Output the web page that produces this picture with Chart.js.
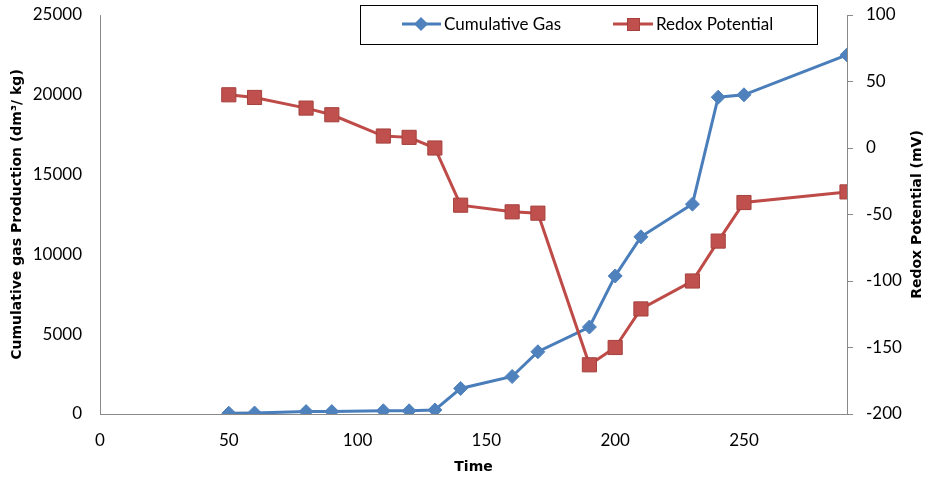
<!DOCTYPE html>
<html>
<head>
<meta charset="utf-8">
<script src="https://cdn.jsdelivr.net/npm/chart.js@4"></script>
<style>
  html, body { margin: 0; padding: 0; background: #fff; }
  #wrap { width: 928px; height: 479px; position: relative; }
</style>
</head>
<body>
<div id="wrap"><canvas id="redox-chart" width="928" height="479"></canvas></div>
<script>
// time (x) values shared by both series
const time = [50, 60, 80, 90, 110, 120, 130, 140, 160, 170, 190, 200, 210, 230, 240, 250, 290];
const cumulativeGas = [50, 60, 150, 150, 200, 200, 250, 1600, 2350, 3900, 5450, 8650, 11100, 13150, 19850, 20000, 22500];
const redoxPotential = [40, 38, 30, 25, 9, 8, 0, -43, -48, -49, -163, -150, -121, -100, -70, -41, -33];

const timeTicks = [0, 50, 100, 150, 200, 250];
const gasTicks = [0, 5000, 10000, 15000, 20000, 25000];
const redoxTicks = [-200, -150, -100, -50, 0, 50, 100];

const blue = '#4A7EBB';
const blueFill = '#4F81BD';
const red = '#BE4B48';
const redFill = '#C0504D';
const redEdge = '#A5403D';
const axisGrey = '#898989';
const tickFont = { family: 'Lato', size: 17 };
const titleFont = { family: 'DejaVu Sans', size: 14, weight: 'bold' };

const toPoints = (ys) => time.map((t, i) => ({ x: t, y: ys[i] }));
const fixTicks = (list) => (scale) => { scale.ticks = list.map(v => ({ value: v })); };
const plain = (v) => String(v);
// fixed box size; drop the label overhang chart.js adds above/below
const fitSide = (w) => (s) => { s.width = w; s.paddingTop = 0; s.paddingBottom = 0; };

// legend box drawn over the top of the plot, plus the right-hand axis title
const overlay = {
    id: 'overlay',
    afterDraw(chart) {
        const c = chart.ctx;
        c.save();
        c.strokeStyle = '#000';
        c.lineWidth = 1;
        c.strokeRect(360.5, 5.5, 457, 39);

        c.font = '17px Lato';
        c.textBaseline = 'middle';
        c.fillStyle = '#000';

        // Cumulative Gas
        c.strokeStyle = blue;
        c.lineWidth = 3;
        c.beginPath(); c.moveTo(402, 24); c.lineTo(441, 24); c.stroke();
        c.fillStyle = blueFill;
        c.beginPath(); c.moveTo(421, 17); c.lineTo(428, 24); c.lineTo(421, 31); c.lineTo(414, 24); c.closePath(); c.fill();
        c.fillStyle = '#000';
        c.fillText('Cumulative Gas', 444, 25);

        // Redox Potential
        c.strokeStyle = red;
        c.beginPath(); c.moveTo(613, 24); c.lineTo(653, 24); c.stroke();
        c.fillStyle = redFill;
        c.fillRect(627, 18, 13, 13);
        c.strokeStyle = redEdge; c.lineWidth = 1;
        c.strokeRect(627.5, 18.5, 12, 12);
        c.fillStyle = '#000';
        c.fillText('Redox Potential', 656, 25);

        // right axis title, reading bottom to top
        const area = chart.chartArea;
        c.translate(917, (area.top + area.bottom) / 2);
        c.rotate(-Math.PI / 2);
        c.font = 'bold 14px "DejaVu Sans"';
        c.textAlign = 'center';
        c.fillText('Redox Potential (mV)', 0, 0);
        c.restore();
    }
};

const ctx = document.getElementById('redox-chart').getContext('2d');

const chart = new Chart(ctx, {
    type: 'line',
    data: {
        datasets: [{
            label: 'Cumulative Gas',
            data: toPoints(cumulativeGas),
            yAxisID: 'yGas',
            borderColor: blue,
            backgroundColor: blueFill,
            borderWidth: 3,
            pointStyle: 'rectRot',
            pointRadius: 7,
            pointBorderWidth: 1,
            pointBorderColor: blueFill,
            order: 1
        }, {
            label: 'Redox Potential',
            data: toPoints(redoxPotential),
            yAxisID: 'yRedox',
            borderColor: red,
            backgroundColor: redFill,
            borderWidth: 3,
            pointStyle: 'rect',
            pointRadius: 10,
            pointBorderWidth: 1,
            pointBorderColor: redEdge,
            order: 0
        }]
    },
    options: {
        responsive: false,
        animation: false,
        layout: { padding: { top: 15, left: 0, right: 0, bottom: 0 } },
        plugins: { legend: { display: false }, tooltip: { enabled: false } },
        scales: {
            x: {
                type: 'linear',
                min: 0,
                max: 290,
                afterBuildTicks: fixTicks(timeTicks),
                afterFit: (s) => { s.height = 65; s.paddingLeft = 0; s.paddingRight = 0; },
                grid: { display: false, drawTicks: false },
                border: { display: true, color: axisGrey, width: 1 },
                ticks: { color: '#000', font: tickFont, padding: 16, maxRotation: 0, callback: plain },
                title: { display: true, text: 'Time', color: '#000', font: titleFont, padding: { top: 0, bottom: 3 } }
            },
            yGas: {
                position: 'left',
                min: 0,
                max: 25000,
                afterBuildTicks: fixTicks(gasTicks),
                afterFit: fitSide(100),
                grid: { display: false, drawTicks: false },
                border: { display: true, color: axisGrey, width: 1 },
                ticks: { color: '#000', font: tickFont, padding: 18, callback: plain },
                title: { display: true, text: 'Cumulative gas Production (dm³/ kg)', color: '#000', font: titleFont, padding: { top: 9, bottom: 0 } }
            },
            yRedox: {
                position: 'right',
                min: -200,
                max: 100,
                afterBuildTicks: fixTicks(redoxTicks),
                afterFit: fitSide(81),
                grid: { display: true, drawOnChartArea: false, drawTicks: true, tickLength: 6, color: axisGrey },
                border: { display: true, color: axisGrey, width: 1 },
                ticks: { color: '#000', font: tickFont, padding: 13, callback: plain }
            }
        }
    },
    plugins: [overlay]
});
</script>
</body>
</html>
